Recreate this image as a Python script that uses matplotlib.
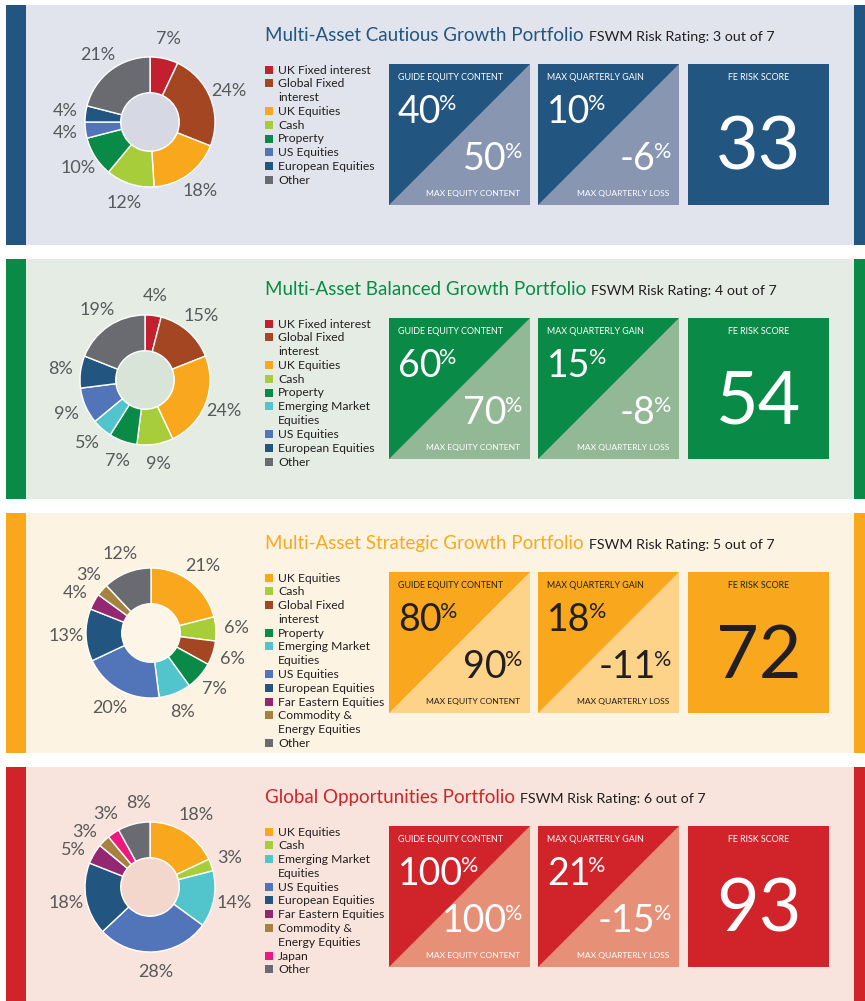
import numpy as np
import matplotlib
matplotlib.use("Agg")
import matplotlib.pyplot as plt
from matplotlib.patches import Rectangle, Polygon, Circle

plt.rcParams['font.family'] = ['Lato', 'DejaVu Sans']

W, H = 865, 1001

# ---- data ----
titles = ["Multi-Asset Cautious Growth Portfolio",
          "Multi-Asset Balanced Growth Portfolio",
          "Multi-Asset Strategic Growth Portfolio",
          "Global Opportunities Portfolio"]
risk_ratings = [3, 4, 5, 6]
guide_equity = [40, 60, 80, 100]
max_equity = [50, 70, 90, 100]
max_gain = [10, 15, 18, 21]
max_loss = [-6, -8, -11, -15]
fe_scores = [33, 54, 72, 93]

cats1 = ["UK Fixed interest", "Global Fixed\ninterest", "UK Equities", "Cash",
         "Property", "US Equities", "European Equities", "Other"]
vals1 = [7, 24, 18, 12, 10, 4, 4, 21]

cats2 = ["UK Fixed interest", "Global Fixed\ninterest", "UK Equities", "Cash",
         "Property", "Emerging Market\nEquities", "US Equities",
         "European Equities", "Other"]
vals2 = [4, 15, 24, 9, 7, 5, 9, 8, 19]

cats3 = ["UK Equities", "Cash", "Global Fixed\ninterest", "Property",
         "Emerging Market\nEquities", "US Equities", "European Equities",
         "Far Eastern Equities", "Commodity &\nEnergy Equities", "Other"]
vals3 = [21, 6, 6, 7, 8, 20, 13, 4, 3, 12]

cats4 = ["UK Equities", "Cash", "Emerging Market\nEquities", "US Equities",
         "European Equities", "Far Eastern Equities",
         "Commodity &\nEnergy Equities", "Japan", "Other"]
vals4 = [18, 3, 14, 28, 18, 5, 3, 3, 8]

all_cats = [cats1, cats2, cats3, cats4]
all_vals = [vals1, vals2, vals3, vals4]

# ---- styles ----
cat_colors = {
    "UK Fixed interest": "#C21F2F",
    "Global Fixed\ninterest": "#A54623",
    "UK Equities": "#F9A81E",
    "Cash": "#A8CD3A",
    "Property": "#0A8A47",
    "Emerging Market\nEquities": "#52C4CC",
    "US Equities": "#5275BA",
    "European Equities": "#22557F",
    "Far Eastern Equities": "#932771",
    "Commodity &\nEnergy Equities": "#A5823F",
    "Japan": "#EC1A7E",
    "Other": "#6A6B70",
}
accents = ["#22557F", "#0A8A47", "#F9A81E", "#D0232A"]
bgs = ["#E1E4EC", "#E4ECE4", "#FDF3E3", "#F8E4DC"]
holes = ["#D6D9E3", "#D9E4D9", "#FDF5E8", "#F3D6CC"]
lights = ["#8896B2", "#93B896", "#FDD289", "#E69077"]
box_text = ["white", "white", "#231F20", "white"]

panel_tops = [5, 259, 513, 767]
panel_h = 240
pie_cx = [150, 145, 151, 150]
pie_dy = [117, 121, 120, 120]
pie_r = 65
box_x = [389, 538, 688]
box_s = 141
label_dist = 1.31

fig = plt.figure(figsize=(W / 100, H / 100), dpi=100)
fig.patch.set_facecolor("white")
ax = fig.add_axes([0, 0, 1, 1])
ax.set_xlim(0, W)
ax.set_ylim(H, 0)
ax.axis("off")
renderer = fig.canvas.get_renderer()


def width_of(t):
    return t.get_window_extent(renderer=renderer).width


def pct_left(x, base, num, color, nsize=27, psize=15.5):
    t = ax.text(x, base, num, fontsize=nsize, color=color, ha="left", va="baseline")
    w = width_of(t)
    ax.text(x + w - 2, base - 13, "%", fontsize=psize, color=color,
            ha="left", va="baseline")


def pct_right(x, base, num, color, nsize=27, psize=15.5):
    p = ax.text(x, base - 12, "%", fontsize=psize, color=color,
                ha="right", va="baseline")
    w = width_of(p)
    ax.text(x - w + 2, base, num, fontsize=nsize, color=color,
            ha="right", va="baseline")


def spread(angles, widths, radius_px, h=18, pad=8):
    # push neighbouring label angles apart until their boxes stop colliding
    a = list(angles)
    for _ in range(300):
        moved = False
        for j in range(len(a) - 1):
            th = np.deg2rad((a[j] + a[j + 1]) / 2)
            need_w = (widths[j] + widths[j + 1]) / 2 + pad
            s = min(need_w / max(abs(np.cos(th)), 1e-3),
                    h / max(abs(np.sin(th)), 1e-3))
            gap = np.rad2deg(s / radius_px)
            d = a[j + 1] - a[j]
            if d < gap - 1e-6:
                shift = (gap - d) / 2
                a[j] -= shift
                a[j + 1] += shift
                moved = True
        if not moved:
            break
    return a


for i in range(4):
    top = panel_tops[i]
    acc = accents[i]
    # panel background and side bars
    ax.add_patch(Rectangle((26, top), 854 - 26, panel_h, color=bgs[i], lw=0))
    ax.add_patch(Rectangle((6, top), 20, panel_h, color=acc, lw=0))
    ax.add_patch(Rectangle((854, top), 12, panel_h, color=acc, lw=0))

    # title
    t = ax.text(265, top + 36, titles[i], fontsize=13.5, color=acc,
                ha="left", va="baseline")
    tw = width_of(t)
    ax.text(265 + tw + 5, top + 36, f"FSWM Risk Rating: {risk_ratings[i]} out of 7",
            fontsize=10.3, color="#231F20", ha="left", va="baseline")

    # legend
    y = top + 65
    for c in all_cats[i]:
        ax.add_patch(Rectangle((265, y - 4.5), 8, 8, color=cat_colors[c], lw=0))
        for line in c.split("\n"):
            ax.text(278, y, line, fontsize=8.7, color="#231F20", ha="left", va="center")
            y += 13.8

    # boxes
    by = top + 59
    tc = box_text[i]
    for k, bx in enumerate(box_x):
        ax.add_patch(Rectangle((bx, by), box_s, box_s, color=acc, lw=0))
        if k < 2:
            ax.add_patch(Polygon([(bx, by + box_s), (bx + box_s, by),
                                  (bx + box_s, by + box_s)], closed=True,
                                 color=lights[i], lw=0))
    # guide / max equity
    bx = box_x[0]
    ax.text(bx + 9, by + 13.5, "GUIDE EQUITY CONTENT", fontsize=6.4, color=tc,
            ha="left", va="center")
    pct_left(bx + 9, by + 59, str(guide_equity[i]), tc)
    pct_right(bx + 133, by + 106, str(max_equity[i]), tc)
    ax.text(bx + 131, by + 129.5, "MAX EQUITY CONTENT", fontsize=6.1, color=tc,
            ha="right", va="center")
    # quarterly gain / loss
    bx = box_x[1]
    ax.text(bx + 9, by + 13.5, "MAX QUARTERLY GAIN", fontsize=6.4, color=tc,
            ha="left", va="center")
    pct_left(bx + 9, by + 59, str(max_gain[i]), tc)
    pct_right(bx + 133, by + 106, str(max_loss[i]), tc)
    ax.text(bx + 131, by + 129.5, "MAX QUARTERLY LOSS", fontsize=6.1, color=tc,
            ha="right", va="center")
    # FE risk score
    bx = box_x[2]
    ax.text(bx + box_s / 2, by + 13.5, "FE RISK SCORE", fontsize=6.4, color=tc,
            ha="center", va="center")
    ax.text(bx + box_s / 2, by + 106, str(fe_scores[i]), fontsize=53, color=tc,
            ha="center", va="baseline")

    # donut
    R = pie_r * 1.6
    cx, cy = pie_cx[i], top + pie_dy[i]
    pax = fig.add_axes([(cx - R) / W, 1 - (cy + R) / H, 2 * R / W, 2 * R / H])
    vals = all_vals[i]
    wedges, _ = pax.pie(vals, colors=[cat_colors[c] for c in all_cats[i]],
                        startangle=90, counterclock=False, radius=1,
                        wedgeprops=dict(width=0.55, edgecolor="white", linewidth=1))
    pax.add_patch(Circle((0, 0), 0.44, color=holes[i], lw=0, zorder=0.5))
    pax.set_xlim(-1.6, 1.6)
    pax.set_ylim(-1.6, 1.6)
    pax.set_aspect("equal")
    pax.axis("off")

    # percentage labels around the ring, angles measured clockwise from top
    mids = [(90 - (w.theta1 + w.theta2) / 2) % 360 for w in wedges]
    order = list(np.argsort(mids))
    labels = [pax.text(0, 0, f"{vals[j]}%", fontsize=13, color="#58595B",
                       ha="center", va="center") for j in order]
    widths = [width_of(lb) for lb in labels]
    new_mids = spread([mids[j] for j in order], widths, label_dist * pie_r)
    for lb, ang in zip(labels, new_mids):
        th = np.deg2rad(ang)
        lb.set_position((label_dist * np.sin(th), label_dist * np.cos(th)))

fig.savefig("out.png", dpi=100)
